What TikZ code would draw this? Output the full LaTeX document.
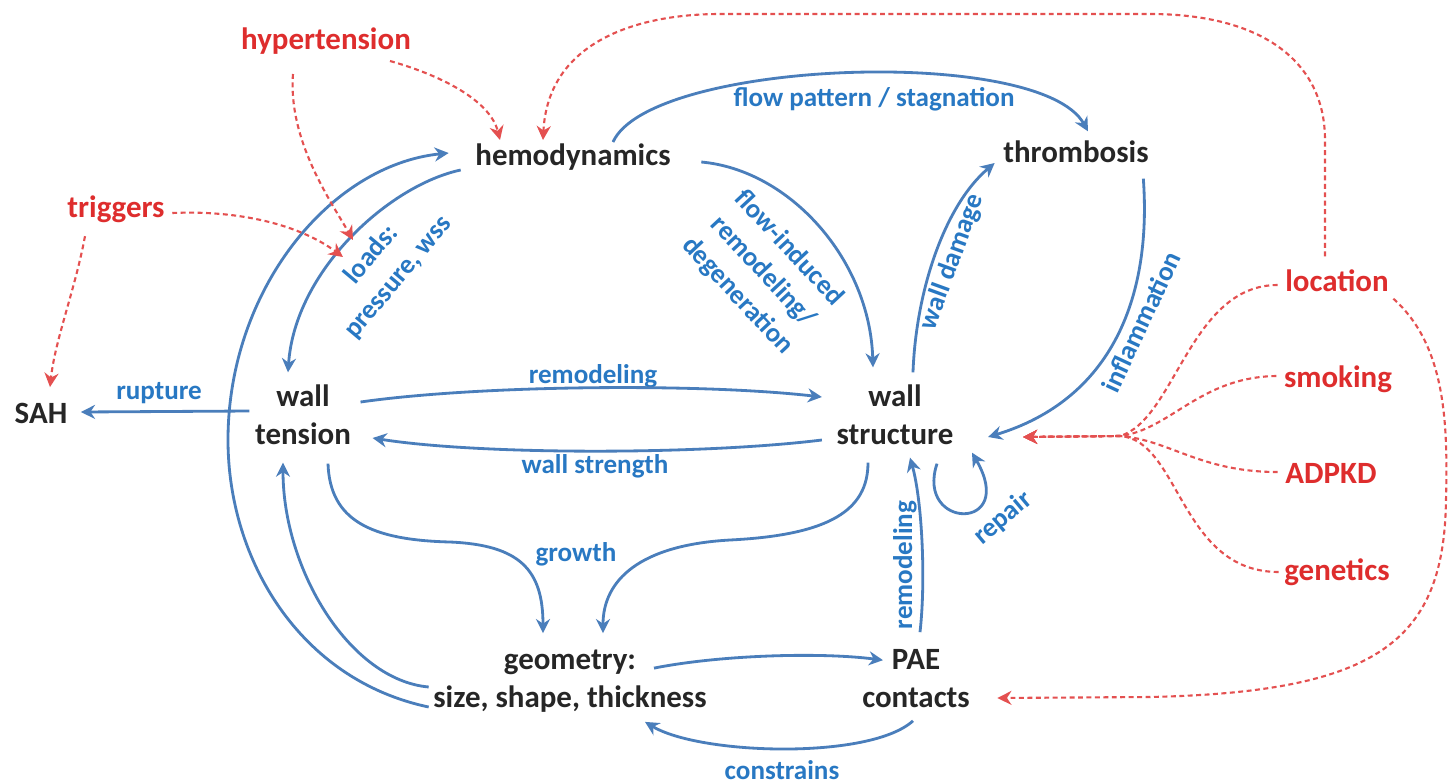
\documentclass[tikz,border=0pt]{standalone}
\usepackage{fontspec}
\setmainfont{Carlito}
\usetikzlibrary{arrows.meta}
\definecolor{linkblue}{RGB}{74,126,187}
\definecolor{textblue}{RGB}{40,120,195}
\definecolor{riskred}{RGB}{222,45,45}
\definecolor{dashred}{RGB}{228,80,80}
\tikzset{
  fac/.style={inner sep=0pt,align=center,font=\fontsize{8.8}{10.8}\selectfont\bfseries,text=black!85},
  risk/.style={inner sep=0pt,font=\fontsize{8.8}{10.8}\selectfont\bfseries,text=riskred},
  lbl/.style={inner sep=0pt,align=center,font=\fontsize{7.7}{10}\selectfont\bfseries,text=textblue},
  link/.style={draw=linkblue,line width=0.8pt,-{Stealth[length=4pt,width=4pt]}},
  infl/.style={draw=dashred,line width=0.6pt,dash pattern=on 1.4pt off 1pt,-{Stealth[length=4pt,width=4pt]}},
}
\begin{document}
\begin{tikzpicture}[x=0.01cm,y=-0.01cm]
\fill[white] (0,0) rectangle (1450,781);
\useasboundingbox (0,0) rectangle (1450,781);

\node[fac] (hemo) at (573,157) {hemodynamics};
\node[fac] (thromb) at (1076,152) {thrombosis};
\node[fac] (wt) at (303,415) {wall\\tension};
\node[fac] (ws) at (895,415) {wall\\structure};
\node[fac] (geo) at (570,681) {geometry:\\size, shape, thickness};
\node[fac] (pae) at (916,679) {PAE\\contacts};
\node[fac] (sah) at (41,413) {SAH};

\node[risk] (hyper) at (326,41) {hypertension};
\node[risk] (trig) at (116,209) {triggers};
\node[risk] (loc) at (1337,281) {location};
\node[risk] (smok) at (1338,379) {smoking};
\node[risk] (adpkd) at (1331,473) {ADPKD};
\node[risk] (gene) at (1337,572) {genetics};

\node[lbl,rotate=50] (loads) at (385,266) {loads:\\pressure, wss};
\node[lbl] (flowpat) at (874,99) {flow pattern / stagnation};
\node[lbl,rotate=-47] (flowind) at (763,272) {flow-induced\\remodeling/\\degeneration};
\node[lbl,rotate=70] (walldmg) at (952,262) {wall damage};
\node[lbl,rotate=65] (inflam) at (1141,322) {inflammation};
\node[lbl] (rupt) at (159,393) {rupture};
\node[lbl] (remod) at (593,376) {remodeling};
\node[lbl] (wallstr) at (595,466) {wall strength};
\node[lbl] (growth) at (576,554) {growth};
\node[lbl,rotate=90] (remodpae) at (905,565) {remodeling};
\node[lbl,rotate=40] (repair) at (1003,518) {repair};
\node[lbl] (constr) at (782,770) {constrains};

\draw[link] ([shift={(-14,13)}]hemo.west)
  .. controls (390,185) and (295,270) .. ([shift={(-15,-12)}]wt.north);
\draw[link] ([shift={(-4,26)}]geo.west)
  .. controls (300,680) and (228,560) .. (228,440)
  .. controls (228,290) and (330,165) .. ([shift={(-26,-4)}]hemo.west);
\draw[link] ([shift={(-4,6)}]geo.west)
  .. controls (350,680) and (283,570) .. ([shift={(-20,17)}]wt.south);
\draw[link] ([shift={(40,-1)}]hemo.north)
  .. controls (650,60) and (1040,45) .. ([shift={(12,-9)}]thromb.north);
\draw[link] ([shift={(30,5)}]hemo.east)
  .. controls (790,170) and (870,260) .. ([shift={(-22,-17)}]ws.north);
\draw[link] ([shift={(18,-12)}]ws.north)
  .. controls (916,290) and (945,205) .. ([shift={(-8,11)}]thromb.west);
\draw[link] ([shift={(-6,15)}]thromb.south east)
  .. controls (1152,300) and (1110,400) .. ([shift={(34,22)}]ws.east);
\draw[link] ([shift={(-5,-4)}]wt.west) -- ([shift={(13,-1)}]sah.east);
\draw[link] ([shift={(9,-13)}]wt.east)
  .. controls (480,385) and (700,383) .. ([shift={(-14,-18)}]ws.west);
\draw[link] ([shift={(-14,25)}]ws.west)
  .. controls (700,455) and (480,455) .. ([shift={(21,23)}]wt.east);
\draw[link] ([shift={(25,18)}]wt.south)
  .. controls (330,520) and (370,540) .. (450,542)
  .. controls (520,545) and (543,570) .. ([shift={(-27,-16)}]geo.north);
\draw[link] ([shift={(-27,17)}]ws.south)
  .. controls (868,510) and (830,535) .. (730,540)
  .. controls (640,545) and (603,580) .. ([shift={(33,-16)}]geo.north);
\draw[link] ([shift={(84,19)}]geo.north)
  .. controls (720,655) and (820,652) .. ([shift={(-33,11)}]pae.north);
\draw[link] ([shift={(-3,12)}]pae.south)
  .. controls (870,760) and (700,755) .. ([shift={(75,9)}]geo.south);
\draw[link] ([shift={(4,-17)}]pae.north)
  .. controls (926,580) and (922,500) .. ([shift={(15,12)}]ws.south);
\draw[link] ([shift={(42,18)}]ws.south)
  .. controls (915,530) and (1018,532) .. ([shift={(77,7)}]ws.south);

\draw[infl] ([shift={(64,6)}]hyper.south)
  .. controls (440,75) and (490,100) .. ([shift={(-73,-3)}]hemo.north);
\draw[infl] ([shift={(-33,19)}]hyper.south)
  .. controls (288,140) and (330,200) .. ([shift={(-32,-26)}]loads.center);
\draw[infl] ([shift={(7,4)}]trig.east)
  .. controls (240,210) and (300,225) .. ([shift={(-42,-9)}]loads.center);
\draw[infl] ([shift={(-31,13)}]trig.south)
  .. controls (75,290) and (55,340) .. ([shift={(9,-15)}]sah.north);
\draw[infl] ([shift={(-12,-13)}]loc.north) -- (1325,140)
  .. controls (1325,60) and (1260,14) .. (1150,14) -- (720,14)
  .. controls (640,14) and (548,40) .. ([shift={(-30,-3)}]hemo.north);
\draw[infl] ([shift={(4,6)}]loc.south east)
  .. controls (1445,345) and (1448,420) .. (1446,500)
  .. controls (1444,640) and (1380,692) .. (1150,697) -- ([shift={(27,19)}]pae.east);
\draw[infl] ([shift={(-7,4)}]loc.west)
  .. controls (1190,285) and (1175,420) .. (1120,436) -- ([shift={(69,22)}]ws.east);
\draw[infl] ([shift={(-7,-3)}]smok.west)
  .. controls (1200,377) and (1170,430) .. (1120,436) -- ([shift={(69,22)}]ws.east);
\draw[infl] ([shift={(-7,-1)}]adpkd.west)
  .. controls (1200,472) and (1170,440) .. (1120,436) -- ([shift={(69,22)}]ws.east);
\draw[infl] ([shift={(-5,0)}]gene.west)
  .. controls (1180,572) and (1180,440) .. (1120,436) -- ([shift={(69,22)}]ws.east);
\end{tikzpicture}
\end{document}
